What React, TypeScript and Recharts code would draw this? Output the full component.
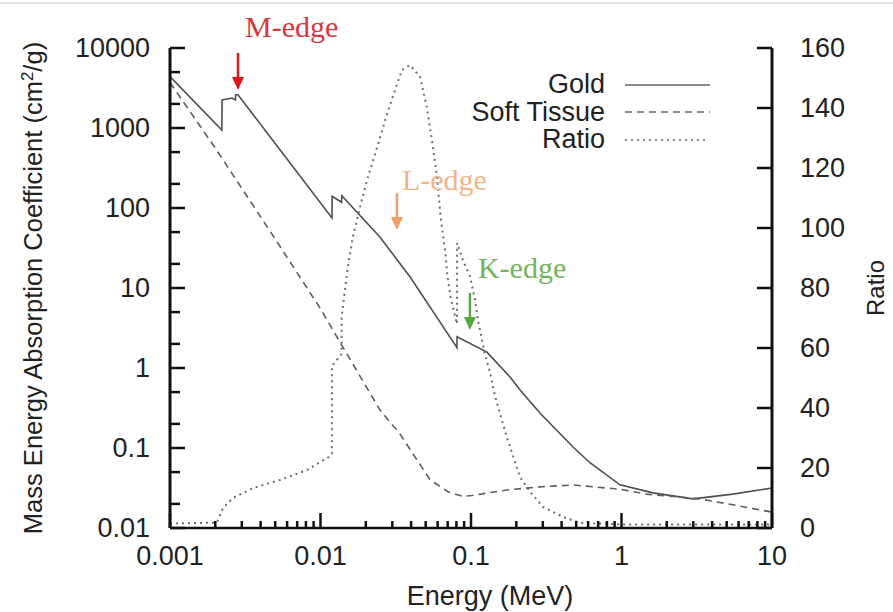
import React from 'react';
import { ComposedChart, Line, XAxis, YAxis, Legend, ReferenceDot } from 'recharts';

// energies in MeV, mass energy absorption coefficients in cm2/g
const goldEnergy = [0.001, 0.00221, 0.00222, 0.00258, 0.00272, 0.00273, 0.00283, 0.005, 0.01192, 0.01195, 0.0138, 0.01385, 0.0248, 0.0394, 0.0807, 0.08075, 0.1276, 0.1817, 0.212, 0.287, 0.476, 0.62, 0.977, 1.62, 2.98, 5.5, 10];
const goldMu = [4400, 944, 2240, 2370, 2240, 2600, 2600, 640, 75, 140, 118, 142, 43.5, 13.7, 1.8, 2.45, 1.58, 0.77, 0.53, 0.274, 0.103, 0.065, 0.0347, 0.0275, 0.0231, 0.0265, 0.0316];

const tissueEnergy = [0.001, 0.002, 0.005, 0.01, 0.0139, 0.0248, 0.0337, 0.0535, 0.0708, 0.0887, 0.1016, 0.173, 0.287, 0.476, 0.977, 1.46, 3.3, 5.5, 10];
const tissueMu = [3700, 560, 41, 5.5, 1.9, 0.3, 0.15, 0.04, 0.0282, 0.0248, 0.0255, 0.0299, 0.0327, 0.0345, 0.0305, 0.0265, 0.0231, 0.0195, 0.0158];

const ratioEnergy = [0.001, 0.00205, 0.00225, 0.00262, 0.00356, 0.00537, 0.00813, 0.0119, 0.01191, 0.0138, 0.01381, 0.0141, 0.0152, 0.0164, 0.0183, 0.0204, 0.0238, 0.0277, 0.0323, 0.0348, 0.0394, 0.0459, 0.051, 0.0551, 0.0595, 0.063, 0.0675, 0.0697, 0.0731, 0.0766, 0.0807, 0.0808, 0.0887, 0.0984, 0.1064, 0.1114, 0.118, 0.1237, 0.1337, 0.1443, 0.1561, 0.1736, 0.1876, 0.2118, 0.2473, 0.3013, 0.409, 0.53, 1, 10];
const ratioValue = [1.5, 1.8, 6.7, 10, 13.3, 16, 19.3, 24.3, 54, 58, 70, 74, 87, 97, 107, 116, 127, 138, 148, 152.7, 154.3, 150.3, 140, 129, 117, 103, 92, 84, 77, 72.7, 68, 95, 89, 84, 76, 69, 63, 58, 52, 44, 38, 30, 25, 17, 12, 7, 3.7, 1.7, 1.2, 1.2];

const seriesNames = ['Gold', 'Soft Tissue', 'Ratio'];

const edgeLabels = ['M-edge', 'L-edge', 'K-edge'];
const edgeEnergy = [0.00283, 0.0322, 0.0984];
const edgeTipMu = [2985, 53, 2.99];

const xMajor = [0.001, 0.01, 0.1, 1, 10];
const xMinorSteps = [2, 3, 4, 5, 6, 7, 8, 9];
const muMajor = [0.01, 0.1, 1, 10, 100, 1000, 10000];
const muMinorSteps = [2, 5];
const ratioTicks = [0, 20, 40, 60, 80, 100, 120, 140, 160];

const SANS = '"Liberation Sans", Arial, sans-serif';
const SERIF = '"Liberation Serif", "Times New Roman", serif';

const goldData = goldEnergy.map((e, i) => ({ e, mu: goldMu[i] }));
const tissueData = tissueEnergy.map((e, i) => ({ e, mu: tissueMu[i] }));
const ratioData = ratioEnergy.map((e, i) => ({ e, ratio: ratioValue[i] }));

const xTicks = [
  ...xMajor,
  ...xMajor.slice(0, -1).flatMap((d) => xMinorSteps.map((s) => +(d * s).toPrecision(3))),
].sort((a, b) => a - b);
const muTicks = [
  ...muMajor,
  ...muMajor.slice(0, -1).flatMap((d) => muMinorSteps.map((s) => +(d * s).toPrecision(3))),
].sort((a, b) => a - b);

const edgeStyle = {
  'M-edge': { text: '#d8383c', arrow: '#e3161d', dx: 7, dy: -53 },
  'L-edge': { text: '#f1b58c', arrow: '#efa066', dx: 5, dy: -40 },
  'K-edge': { text: '#74b35e', arrow: '#5aa83c', dx: 8, dy: -52 },
};

const legendDash = { Gold: undefined, 'Soft Tissue': '7 5', Ratio: '2 4' };

const LeftTick = ({ x, y, payload }) => {
  const major = muMajor.includes(payload.value);
  return (
    <g>
      <line x1={x} y1={y} x2={x + (major ? 15 : 10)} y2={y} stroke="#111" strokeWidth={2.5} />
      {major && (
        <text x={x - 20} y={y} textAnchor="end" dominantBaseline="central" fontFamily={SANS} fontSize={27} fill="#222">
          {String(payload.value)}
        </text>
      )}
    </g>
  );
};

const RightTick = ({ x, y, payload }) => (
  <g>
    <line x1={x} y1={y} x2={x - 15} y2={y} stroke="#111" strokeWidth={2.5} />
    <text x={x + 28} y={y} textAnchor="start" dominantBaseline="central" fontFamily={SANS} fontSize={27} fill="#222">
      {String(payload.value)}
    </text>
  </g>
);

const BottomTick = ({ x, y, payload }) => {
  const major = xMajor.includes(payload.value);
  return (
    <g>
      <line x1={x} y1={y} x2={x} y2={y - (major ? 15 : 7)} stroke="#111" strokeWidth={2.5} />
      {major && (
        <text x={x} y={y + 37} textAnchor="middle" fontFamily={SANS} fontSize={27} fill="#222">
          {String(payload.value)}
        </text>
      )}
    </g>
  );
};

const LeftTitle = ({ viewBox }) => {
  const cx = viewBox.x + 42;
  const cy = viewBox.y + viewBox.height / 2;
  return (
    <text x={cx} y={cy} transform={`rotate(-90, ${cx}, ${cy})`} textAnchor="middle" fontFamily={SANS} fontSize={25.5} fill="#222">
      Mass Energy Absorption Coefficient (cm
      <tspan baselineShift="super" fontSize={17}>2</tspan>
      /g)
    </text>
  );
};

const RightTitle = ({ viewBox }) => {
  const cx = viewBox.x + 112;
  const cy = viewBox.y + viewBox.height / 2;
  return (
    <text x={cx} y={cy} transform={`rotate(-90, ${cx}, ${cy})`} textAnchor="middle" fontFamily={SANS} fontSize={24} fill="#222">
      Ratio
    </text>
  );
};

const BottomTitle = ({ viewBox }) => (
  <text x={viewBox.x + viewBox.width / 2 + 19} y={viewBox.y + 77} textAnchor="middle" fontFamily={SANS} fontSize={27} fill="#222">
    Energy (MeV)
  </text>
);

const EdgeArrow = (label) => (props) => {
  const { cx, cy } = props;
  const s = edgeStyle[label];
  return (
    <g>
      <line x1={cx} y1={cy - 37} x2={cx} y2={cy - 11} stroke={s.arrow} strokeWidth={2.5} />
      <polygon points={`${cx - 6},${cy - 13} ${cx + 6},${cy - 13} ${cx},${cy}`} fill={s.arrow} />
      <text x={cx + s.dx} y={cy + s.dy} fontFamily={SERIF} fontSize={30} fill={s.text}>
        {label}
      </text>
    </g>
  );
};

const LegendBox = ({ payload }) => {
  const items = [...(payload || [])].sort(
    (a, b) => seriesNames.indexOf(a.value) - seriesNames.indexOf(b.value)
  );
  return (
    <div style={{ fontFamily: SANS, fontSize: 27, color: '#222' }}>
      {items.map((item) => (
        <div key={item.value} style={{ display: 'flex', alignItems: 'center', height: 27.5 }}>
          <span style={{ width: 165, textAlign: 'right', lineHeight: '27.5px' }}>{item.value}</span>
          <svg width={90} height={10} style={{ marginLeft: 20 }}>
            <line x1={0} y1={5} x2={item.value === 'Ratio' ? 80 : 85} y2={5} stroke="#8a8a8a" strokeWidth={2} strokeDasharray={legendDash[item.value]} />
          </svg>
        </div>
      ))}
    </div>
  );
};

export default function App() {
  return (
    <div style={{ position: 'absolute', left: 0, top: 0, width: 893, height: 612, background: '#fff' }}>
      <div style={{ position: 'absolute', left: 0, top: 2, width: 893, height: 0, borderTop: '2px solid #e4e4e4' }} />
      <ComposedChart width={893} height={612} margin={{ top: 48, right: 0, bottom: 0, left: 0 }}>
        <XAxis
          dataKey="e"
          type="number"
          scale="log"
          domain={[0.001, 10]}
          ticks={xTicks}
          interval={0}
          allowDataOverflow
          height={84}
          tickSize={0}
          tickMargin={0}
          tickLine={false}
          tick={BottomTick}
          axisLine={{ stroke: '#111', strokeWidth: 2.5 }}
          label={{ content: BottomTitle }}
        />
        <YAxis
          yAxisId="mu"
          orientation="left"
          type="number"
          scale="log"
          domain={[0.01, 10000]}
          ticks={muTicks}
          interval={0}
          allowDataOverflow
          width={170}
          tickSize={0}
          tickMargin={0}
          tickLine={false}
          tick={LeftTick}
          axisLine={{ stroke: '#111', strokeWidth: 3 }}
          label={{ content: LeftTitle }}
        />
        <YAxis
          yAxisId="ratio"
          orientation="right"
          type="number"
          domain={[0, 160]}
          ticks={ratioTicks}
          interval={0}
          width={121}
          tickSize={0}
          tickMargin={0}
          tickLine={false}
          tick={RightTick}
          axisLine={{ stroke: '#111', strokeWidth: 3 }}
          label={{ content: RightTitle }}
        />
        <Legend
          layout="vertical"
          align="center"
          verticalAlign="middle"
          content={LegendBox}
          wrapperStyle={{ position: 'absolute', left: 440, top: 71, width: 300 }}
        />
        <Line
          data={goldData}
          yAxisId="mu"
          dataKey="mu"
          name="Gold"
          type="linear"
          stroke="#4e4e4e"
          strokeWidth={1.6}
          dot={false}
          isAnimationActive={false}
        />
        <Line
          data={tissueData}
          yAxisId="mu"
          dataKey="mu"
          name="Soft Tissue"
          type="linear"
          stroke="#5e5e5e"
          strokeWidth={1.6}
          strokeDasharray="7 5"
          dot={false}
          isAnimationActive={false}
        />
        <Line
          data={ratioData}
          yAxisId="ratio"
          dataKey="ratio"
          name="Ratio"
          type="linear"
          stroke="#6e6e6e"
          strokeWidth={2}
          strokeDasharray="2 4"
          dot={false}
          isAnimationActive={false}
        />
        {edgeLabels.map((label, i) => (
          <ReferenceDot
            key={label}
            x={edgeEnergy[i]}
            y={edgeTipMu[i]}
            yAxisId="mu"
            ifOverflow="visible"
            shape={EdgeArrow(label)}
          />
        ))}
      </ComposedChart>
    </div>
  );
}
